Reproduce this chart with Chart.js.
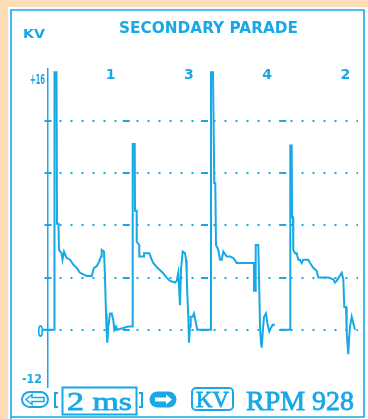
<!DOCTYPE html>
<html>
<head>
<meta charset="utf-8">
<script src="https://cdn.jsdelivr.net/npm/chart.js@4"></script>
<style>
  html, body { margin: 0; padding: 0; background: #fff; }
  #wrap { position: relative; width: 368px; height: 419px; }
</style>
</head>
<body>
<div id="wrap"><canvas id="scope" width="368" height="419"></canvas></div>
<script>
// Secondary ignition parade: one sweep covering all four cylinders in firing order.
// Sweep position (0 = left edge of the trace window) and secondary voltage in kV.
const sweep = [
  -5, 6.5, 6.5, 8.5, 9, 10.5, 11, 13.5, 14.5, 16, 18.7, 22, 25.3, 28.7, 32, 35.3, 38.7, 43.7,
  46, 48.7, 51.3, 53, 53.7, 56, 57, 58, 58.7, 59.3, 60.3, 62, 63.7, 65.3, 66.3, 68, 69.3,
  80.3, 84.7, 84.7, 86.7, 87, 88.7, 88.7, 91.3, 91.3, 96, 96, 101.3, 103.7, 105.3, 108, 111.3,
  114.7, 118.7, 122, 127, 128.7, 130.3, 132, 133, 134.7, 137, 138, 138.7, 139.3, 140.3, 141,
  142, 142.7, 144.7, 146, 148, 149.3,
  163, 163, 165, 166.3, 167.3, 168, 170.3, 172, 173.7, 175.3, 178.7, 182, 185.3, 188.7, 204.7,
  206, 206, 207.7, 207.7, 210.3, 211.3, 212, 213, 213.7, 214.7, 216, 218, 219.3, 221.3, 222.7,
  224.7, 227, 229.5,
  232, 242.3, 242.3, 243.7, 244, 245, 245.3, 247, 248.7, 250.3, 252, 253.7, 255.3, 260.3, 262,
  265.3, 268.7, 270.3, 280.3, 285.3, 287, 288.7, 293.7, 295.3, 296.3, 298, 298.7, 300.3, 301,
  302, 303.7, 305.3, 307
];
const kv = [
  0, 0, 15.8, 15.8, 6.5, 6.5, 4.9, 4.7, 4.3, 4.8, 4.4, 4.3, 4.0, 3.8, 3.5, 3.4, 3.3, 3.3,
  3.8, 3.9, 4.2, 4.5, 4.9, 4.8, 3.2, 1.0, -0.2, -0.8, 0.2, 1.0, 1.0, 0.6, 0, 0.2, 0,
  0.2, 0.2, 11.4, 11.4, 7.3, 7.3, 5.4, 5.2, 4.5, 4.5, 4.7, 4.7, 4.3, 4.1, 3.9, 3.7,
  3.5, 3.2, 3.0, 2.9, 3.0, 3.5, 1.5, 3.7, 4.8, 4.7, 4.3, 3.5, 2.2, 0.8, -0.8,
  0.2, 0.8, 0.8, 1.0, 0.4, 0,
  0, 15.8, 15.8, 9.0, 9.0, 5.2, 4.9, 4.3, 4.3, 4.8, 4.5, 4.5, 4.4, 4.1, 4.1,
  4.1, 2.4, 2.4, 5.2, 5.2, 2.4, 0.2, -0.8, -1.1, -0.2, 0.8, 1.0, 0.4, -0.1, 0.1,
  0.3, 0.3, null,
  0, 0, 11.3, 11.3, 6.9, 6.9, 4.9, 4.7, 4.7, 4.3, 4.3, 4.1, 4.3, 4.3, 4.1,
  3.8, 3.6, 3.2, 3.2, 3.1, 2.9, 3.0, 3.5, 3.1, 1.4, 1.4, -0.2, -1.5, -0.6,
  0.2, 0.8, 0.4, 0
];
const firingOrder = ['1', '3', '4', '2'];
const gridLevels = [0, 3.2, 6.4, 9.6, 12.8];
const scaleLabels = ['+16', '0', '-12'];
const sweepSettings = ['2 ms', 'KV', 'RPM 928'];

const INK = '#17a8e6';
const PEACH = '#fddcba';
const SWEEP_END = 310;
const CYL_SPAN = 78.25;

function fitText(ctx, str, left, baseline, width, font, outline) {
  ctx.save();
  ctx.font = font;
  const w = ctx.measureText(str).width;
  ctx.translate(left, baseline);
  ctx.scale(width / w, 1);
  ctx.textAlign = 'left';
  ctx.textBaseline = 'alphabetic';
  ctx.fillText(str, 0, 0);
  if (outline) {
    ctx.lineWidth = outline;
    ctx.strokeText(str, 0, 0);
  }
  ctx.restore();
}

const scopeFrame = {
  id: 'scopeFrame',
  beforeDraw(chart) {
    const ctx = chart.ctx;
    ctx.save();
    ctx.fillStyle = PEACH;
    ctx.fillRect(0, 0, chart.width, chart.height);
    ctx.fillStyle = '#ffffff';
    ctx.fillRect(8, 7, chart.width - 8, chart.height - 7);
    ctx.strokeStyle = INK;
    ctx.lineWidth = 1.6;
    ctx.beginPath();
    ctx.moveTo(11, chart.height);
    ctx.lineTo(11, 10);
    ctx.lineTo(364, 10);
    ctx.lineTo(364, 417);
    ctx.lineTo(11, 417);
    ctx.stroke();
    ctx.restore();
  },
  beforeDatasetsDraw(chart) {
    // short division marks on each graticule line
    const ctx = chart.ctx;
    const xs = chart.scales.x, ys = chart.scales.y;
    ctx.save();
    ctx.strokeStyle = INK;
    ctx.lineWidth = 2;
    gridLevels.forEach(v => {
      const py = Math.round(ys.getPixelForValue(v));
      for (let d = 0; d < firingOrder.length; d++) {
        const px = xs.getPixelForValue(d * CYL_SPAN);
        ctx.beginPath();
        ctx.moveTo(px - 3.5, py);
        ctx.lineTo(px + 3.5, py);
        ctx.stroke();
      }
    });
    ctx.restore();
  },
  afterDraw(chart) {
    const ctx = chart.ctx;
    const xs = chart.scales.x, ys = chart.scales.y;
    const area = chart.chartArea;
    ctx.save();
    ctx.fillStyle = INK;
    ctx.strokeStyle = INK;

    // header
    fitText(ctx, 'KV', 23, 38, 22, 'bold 13px "DejaVu Sans"');
    fitText(ctx, 'SECONDARY PARADE', 119, 33, 179, 'bold 15px "DejaVu Sans"');

    // cylinder numbers in firing order
    ctx.font = 'bold 14px "DejaVu Sans"';
    ctx.textAlign = 'center';
    ctx.textBaseline = 'alphabetic';
    firingOrder.forEach((c, i) => {
      const px = xs.getPixelForValue(i * CYL_SPAN + CYL_SPAN * 0.8);
      ctx.fillText(c, px, 79);
    });

    // voltage scale labels
    fitText(ctx, scaleLabels[0], 30, ys.getPixelForValue(16) + 15, 15, 'bold 14px "DejaVu Sans"');
    fitText(ctx, scaleLabels[1], 37.5, ys.getPixelForValue(0) + 7.5, 6, 'bold 15px "DejaVu Sans"');
    fitText(ctx, scaleLabels[2], 22, area.bottom - 4, 20, 'bold 13px "DejaVu Sans"');

    // bottom status row
    ctx.lineWidth = 2;
    // left arrow pill
    ctx.beginPath();
    ctx.roundRect(22, 392, 26, 15, 7.5);
    ctx.stroke();
    ctx.lineWidth = 1.5;
    ctx.beginPath();
    ctx.moveTo(26, 399.5);
    ctx.lineTo(32, 394.5);
    ctx.lineTo(32, 397.5);
    ctx.lineTo(44, 397.5);
    ctx.lineTo(44, 401.5);
    ctx.lineTo(32, 401.5);
    ctx.lineTo(32, 404.5);
    ctx.closePath();
    ctx.stroke();
    // brackets
    ctx.lineWidth = 2;
    ctx.beginPath();
    ctx.moveTo(58, 393); ctx.lineTo(55, 393); ctx.lineTo(55, 407); ctx.lineTo(58, 407);
    ctx.moveTo(139, 393); ctx.lineTo(142, 393); ctx.lineTo(142, 407); ctx.lineTo(139, 407);
    ctx.stroke();
    // time base box
    ctx.strokeRect(62.5, 387.5, 74, 27);
    fitText(ctx, sweepSettings[0], 67, 410, 65, '26px "Liberation Serif"', 0.8);
    // right arrow pill (filled)
    ctx.beginPath();
    ctx.roundRect(149.5, 391.5, 27, 16, 8);
    ctx.fill();
    ctx.fillStyle = '#ffffff';
    ctx.beginPath();
    ctx.moveTo(172, 399.5);
    ctx.lineTo(166, 394.5);
    ctx.lineTo(166, 397.5);
    ctx.lineTo(155, 397.5);
    ctx.lineTo(155, 401.5);
    ctx.lineTo(166, 401.5);
    ctx.lineTo(166, 404.5);
    ctx.closePath();
    ctx.fill();
    ctx.fillStyle = INK;
    // KV range box
    ctx.lineWidth = 2;
    ctx.beginPath();
    ctx.roundRect(192, 388, 41, 22, 4);
    ctx.stroke();
    fitText(ctx, sweepSettings[1], 196, 407, 33, '23px "Liberation Serif"', 0.8);
    fitText(ctx, sweepSettings[2], 246, 410, 108, '27px "Liberation Serif"', 0.8);
    ctx.restore();
  }
};

new Chart(document.getElementById('scope'), {
  type: 'line',
  data: {
    datasets: [{
      data: sweep.map((x, i) => ({ x, y: kv[i] })),
      borderColor: INK,
      borderWidth: 2,
      pointRadius: 0,
      tension: 0,
      fill: false,
      spanGaps: false,
      clip: false,
      borderJoinStyle: 'miter'
    }]
  },
  options: {
    responsive: false,
    animation: false,
    devicePixelRatio: 1,
    layout: { padding: { left: 48, right: 10, top: 69, bottom: 32.2 } },
    plugins: { legend: { display: false }, tooltip: { enabled: false }, title: { display: false } },
    scales: {
      x: { type: 'linear', min: 0, max: SWEEP_END, display: false },
      y: {
        type: 'linear', min: -3.5, max: 16,
        afterBuildTicks(scale) { scale.ticks = gridLevels.map(v => ({ value: v })); },
        afterFit(scale) { scale.width = 0; },
        ticks: { display: false },
        grid: { color: INK, lineWidth: 2, drawTicks: false },
        border: { display: true, color: INK, width: 1.5, dash: [2, 9] }
      }
    }
  },
  plugins: [scopeFrame]
});
</script>
</body>
</html>
